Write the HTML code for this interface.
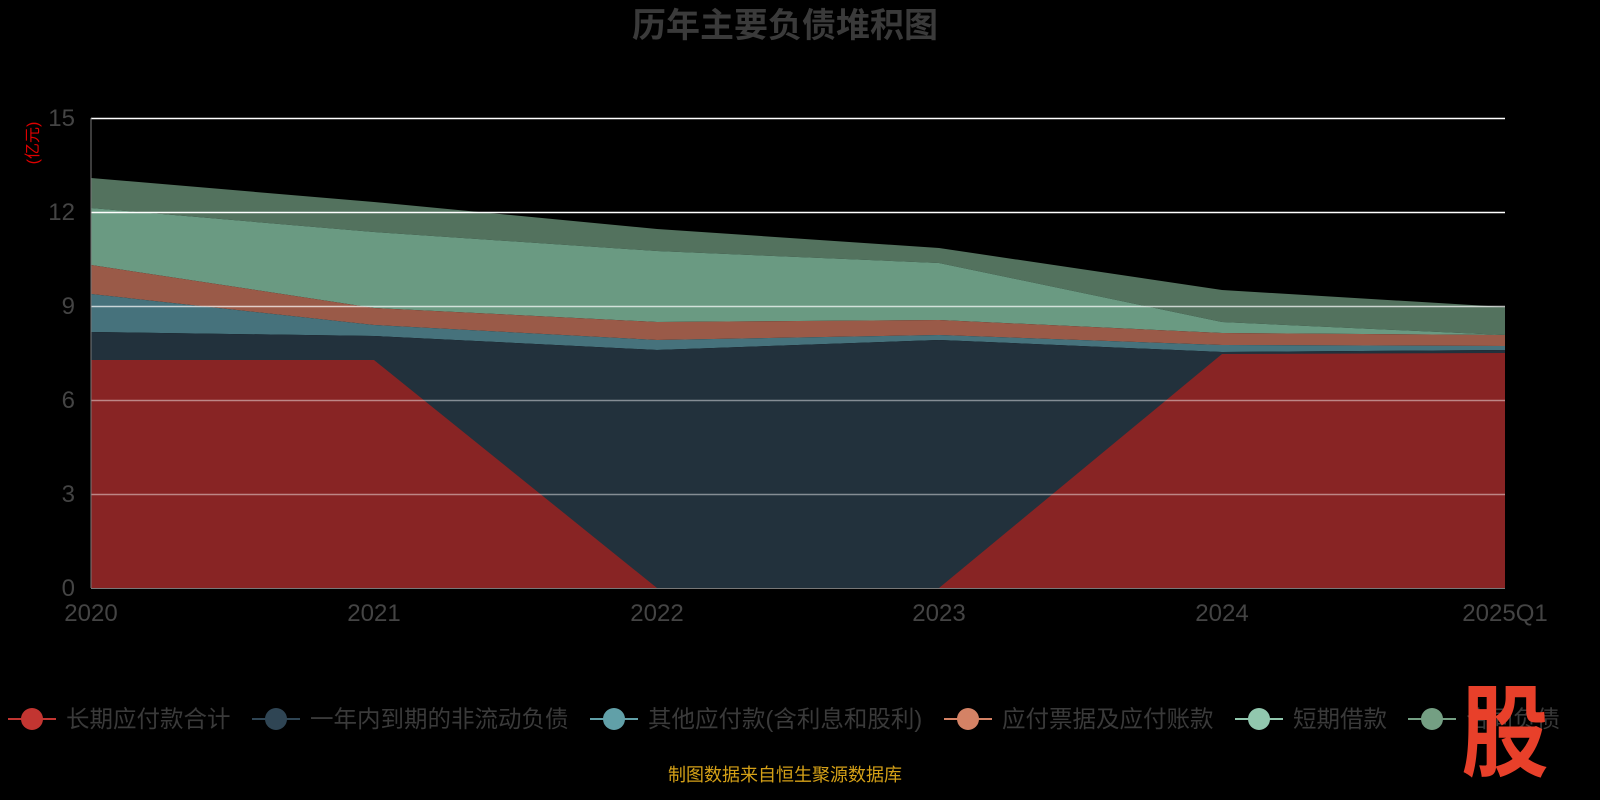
<!DOCTYPE html>
<html><head><meta charset="utf-8"><style>
body{margin:0;background:#000;width:1600px;height:800px;overflow:hidden;font-family:"Liberation Sans","Noto Sans CJK SC",sans-serif}
</style></head><body>
<svg width="1600" height="800" xmlns="http://www.w3.org/2000/svg" style="position:absolute;left:0;top:0">
<text x="785" y="37" text-anchor="middle" font-size="34" font-weight="bold" fill="#3a3a3a" font-family="Liberation Sans,Noto Sans CJK SC,sans-serif">历年主要负债堆积图</text>
<text transform="translate(38,143) rotate(-90)" text-anchor="middle" font-size="16" fill="#d00" font-family="Liberation Sans,Noto Sans CJK SC,sans-serif">(亿元)</text>
<polygon fill="#53725e" points="91,178 374,202 657,229 939,248 1222,290 1505,307 1505,335 1222,322 939,263 657,251 374,232 91,208"/>
<polygon fill="#6a9a82" points="91,208 374,232 657,251 939,263 1222,322 1505,335 1505,335 1222,333 939,320 657,322 374,308 91,265"/>
<polygon fill="#9a5a48" points="91,265 374,308 657,322 939,320 1222,333 1505,335 1505,346 1222,345 939,335 657,340 374,325 91,294"/>
<polygon fill="#46727c" points="91,294 374,325 657,340 939,335 1222,345 1505,346 1505,350 1222,352 939,340 657,350 374,336 91,332"/>
<polygon fill="#22313c" points="91,332 374,336 657,350 939,340 1222,352 1505,350 1505,588 91,588"/>
<polygon fill="#882424" points="91,360 374,360 657,588 939,588 1222,354 1505,353 1505,588 91,588"/>
<g stroke="#fff" stroke-width="1.5">
<line x1="91" y1="118.5" x2="1505" y2="118.5"/>
<line x1="91" y1="212.5" x2="1505" y2="212.5"/>
<line x1="91" y1="306.5" x2="1505" y2="306.5" stroke-opacity="0.7"/>
<line x1="91" y1="400.5" x2="1505" y2="400.5" stroke-opacity="0.45"/>
<line x1="91" y1="494.5" x2="1505" y2="494.5" stroke-opacity="0.45"/>
</g>
<g stroke="#777" stroke-width="1">
<line x1="91" y1="118" x2="91" y2="588"/>
<line x1="91" y1="588.5" x2="1505" y2="588.5"/>
</g>
<g font-size="24" fill="#444" text-anchor="end">
<text x="75" y="126">15</text><text x="75" y="220">12</text><text x="75" y="314">9</text>
<text x="75" y="408">6</text><text x="75" y="502">3</text><text x="75" y="596">0</text>
</g>
<g font-size="24" fill="#444" text-anchor="middle">
<text x="91" y="621">2020</text><text x="374" y="621">2021</text><text x="657" y="621">2022</text>
<text x="939" y="621">2023</text><text x="1222" y="621">2024</text><text x="1505" y="621">2025Q1</text>
</g>
<g font-size="23.5" fill="#3a3a3a" font-family="Liberation Sans,Noto Sans CJK SC,sans-serif">
<line x1="8" y1="719" x2="56" y2="719" stroke="#c23531" stroke-width="2"/><circle cx="32" cy="719" r="11" fill="#c23531"/><text x="66" y="727">长期应付款合计</text>
<line x1="252" y1="719" x2="300" y2="719" stroke="#2f4554" stroke-width="2"/><circle cx="276" cy="719" r="11" fill="#2f4554"/><text x="310" y="727">一年内到期的非流动负债</text>
<line x1="590" y1="719" x2="638" y2="719" stroke="#61a0a8" stroke-width="2"/><circle cx="614" cy="719" r="11" fill="#61a0a8"/><text x="648" y="727">其他应付款(含利息和股利)</text>
<line x1="944" y1="719" x2="992" y2="719" stroke="#d48265" stroke-width="2"/><circle cx="968" cy="719" r="11" fill="#d48265"/><text x="1002" y="727">应付票据及应付账款</text>
<line x1="1235" y1="719" x2="1283" y2="719" stroke="#91c7ae" stroke-width="2"/><circle cx="1259" cy="719" r="11" fill="#91c7ae"/><text x="1293" y="727">短期借款</text>
<line x1="1408" y1="719" x2="1456" y2="719" stroke="#749f83" stroke-width="2"/><circle cx="1432" cy="719" r="11" fill="#749f83"/><text x="1466" y="727">合同负债</text>
</g>
<text x="1505" y="765" text-anchor="middle" font-size="92" font-weight="bold" fill="#e8402a" font-family="Noto Sans CJK SC,sans-serif" transform="translate(1505,730) scale(0.95,1.1) translate(-1505,-730)">股</text>
<text x="785" y="781" text-anchor="middle" font-size="18" fill="#d4a017" font-family="Liberation Sans,Noto Sans CJK SC,sans-serif">制图数据来自恒生聚源数据库</text>
</svg>
</body></html>
